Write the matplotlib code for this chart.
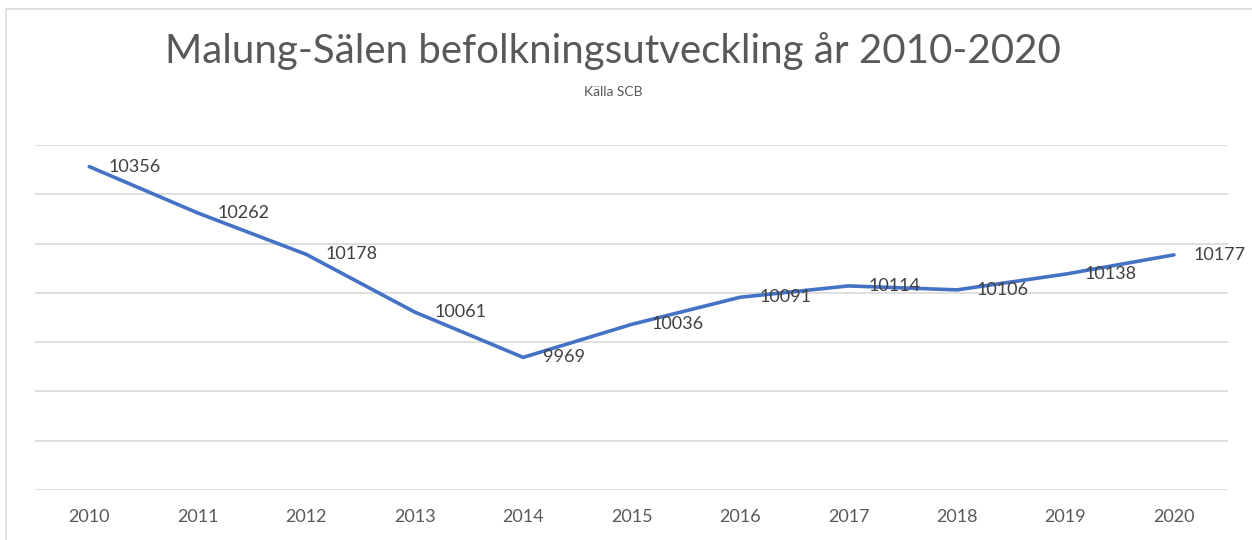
import matplotlib.pyplot as plt
from matplotlib.patches import Rectangle

# Befolkning Malung-Sälen (källa SCB)
ar = [2010, 2011, 2012, 2013, 2014, 2015, 2016, 2017, 2018, 2019, 2020]
befolkning = [10356, 10262, 10178, 10061, 9969, 10036, 10091, 10114, 10106, 10138, 10177]
y_ticks = [9700, 9800, 9900, 10000, 10100, 10200, 10300, 10400]

plt.rcParams["font.family"] = ["Lato", "DejaVu Sans"]

fig = plt.figure(figsize=(12.52, 5.4), dpi=100)
ax = fig.add_axes([0.028, 0.0926, 0.953, 0.639])

ax.plot(ar, befolkning, color="#4472C4", linewidth=2.6, solid_capstyle="round")

for x, y in zip(ar, befolkning):
    ax.annotate(str(y), (x, y), xytext=(14, 0), textcoords="offset points",
                ha="left", va="center", fontsize=13, color="#404040",
                annotation_clip=False)

ax.set_xlim(2009.5, 2020.5)
ax.set_ylim(9700, 10400)
ax.set_yticks(y_ticks)
ax.set_yticklabels([])
ax.set_xticks(ar)
ax.set_xticklabels([str(a) for a in ar], fontsize=13, color="#595959")
ax.tick_params(axis="both", length=0)
ax.tick_params(axis="x", pad=14)
ax.grid(True, axis="y", color="#D9D9D9", linewidth=1.2)
ax.set_axisbelow(True)
for s in ax.spines.values():
    s.set_visible(False)

fig.text(0.4896, 0.905, "Malung-Sälen befolkningsutveckling år 2010-2020",
         ha="center", va="center", fontsize=29, color="#595959")
fig.text(0.4896, 0.83, "Källa SCB", ha="center", va="center", fontsize=10, color="#595959")

# ram runt diagrammet
fig.patches.append(Rectangle((6 / 1252, -0.1), 1.2, 1 - 9 / 540 + 0.1, transform=fig.transFigure,
                             fill=False, edgecolor="#D9D9D9", linewidth=1.2))

plt.savefig("out.png", dpi=100)
